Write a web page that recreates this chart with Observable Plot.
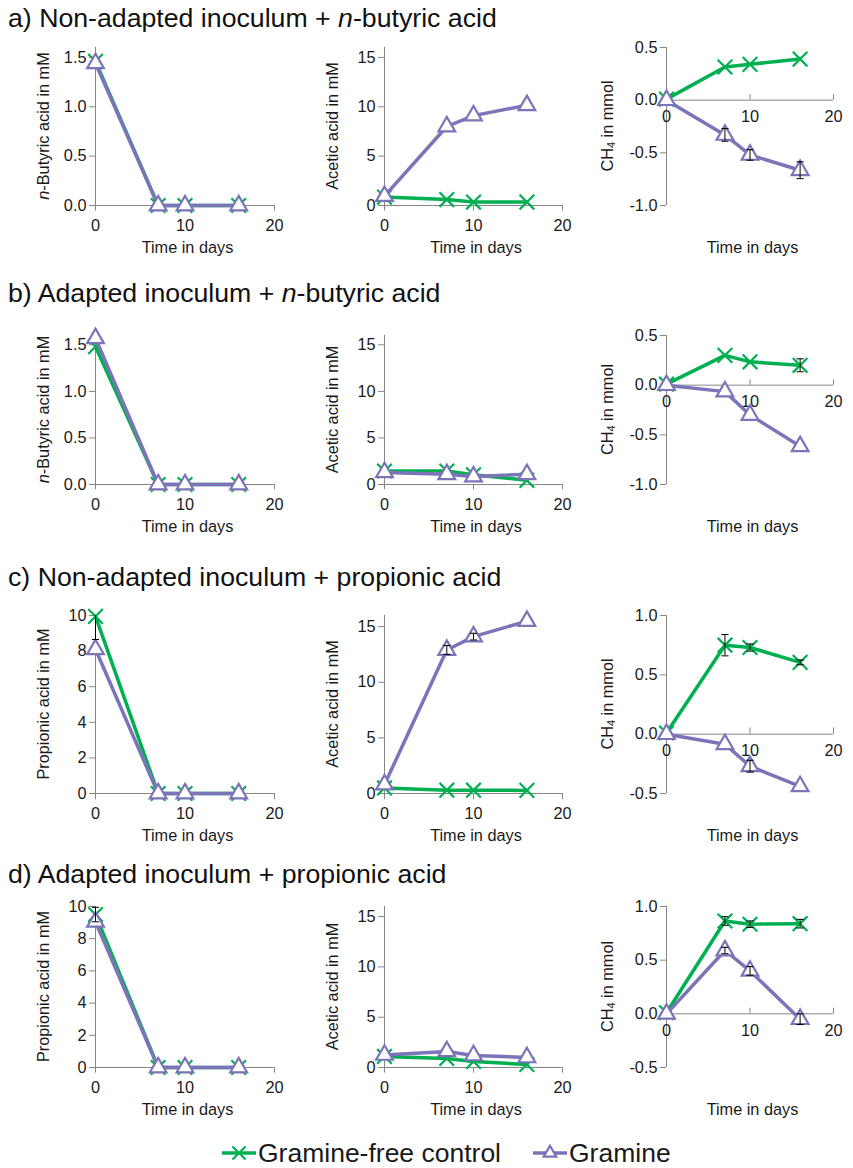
<!DOCTYPE html>
<html><head><meta charset="utf-8">
<script src="https://cdn.jsdelivr.net/npm/d3@7"></script>
<script src="https://cdn.jsdelivr.net/npm/@observablehq/plot@0.6"></script>
<style>
body{margin:0;background:#fff;font-family:"Liberation Sans",Arial,sans-serif;}
#root{position:relative;width:853px;height:1168px;overflow:hidden;background:#fff;}
.title{position:absolute;left:8px;font-size:26.7px;line-height:30px;color:#111;white-space:nowrap;}
.panel{position:absolute;}
</style></head><body><div id="root"></div>
<script>
// ---------- data ----------
const days = [0, 7, 10, 16];
const xTicks = [0, 10, 20];
const seriesNames = ["Gramine-free control", "Gramine"];
const panelTitles = [
  ["a) Non-adapted inoculum + ", "n", "-butyric acid"],
  ["b) Adapted inoculum + ", "n", "-butyric acid"],
  ["c) Non-adapted inoculum + propionic acid", "", ""],
  ["d) Adapted inoculum + propionic acid", "", ""]
];
// row a
const aButCtrl = [1.46, 0, 0, 0];
const aButGram = [1.44, 0, 0, 0];
const aAceCtrl = [0.85, 0.6, 0.35, 0.35];
const aAceGram = [0.95, 8.0, 9.1, 10.15];
const aCh4Ctrl = [0.01, 0.315, 0.34, 0.39];
const aCh4Gram = [0.0, -0.33, -0.52, -0.665];
const aCh4GramErr = [0, 0.06, 0.05, 0.08];
// row b
const bButCtrl = [1.48, 0, 0, 0];
const bButGram = [1.57, 0, 0, 0];
const bAceCtrl = [1.45, 1.45, 1.05, 0.45];
const bAceGram = [1.3, 1.1, 0.85, 1.1];
const bCh4Ctrl = [0.01, 0.30, 0.235, 0.20];
const bCh4Gram = [0.0, -0.065, -0.30, -0.615];
const bCh4CtrlErr = [0, 0, 0, 0.065];
// row c
const cPropCtrl = [9.95, 0, 0, 0];
const cPropGram = [8.1, 0, 0, 0];
const cPropCtrlErr = [1.3, 0, 0, 0];
const cAceCtrl = [0.5, 0.3, 0.3, 0.28];
const cAceGram = [0.8, 12.9, 14.1, 15.5];
const cAceGramErr = [0, 0.4, 0.3, 0];
const cCh4Ctrl = [0.01, 0.75, 0.73, 0.605];
const cCh4Gram = [0.0, -0.085, -0.27, -0.44];
const cCh4CtrlErr = [0, 0.09, 0.03, 0.02];
const cCh4GramErr = [0, 0, 0.05, 0];
// row d
const dPropCtrl = [9.5, 0, 0, 0];
const dPropGram = [9.05, 0, 0, 0];
const dPropCtrlErr = [0.45, 0, 0, 0];
const dAceCtrl = [1.1, 0.9, 0.6, 0.3];
const dAceGram = [1.25, 1.6, 1.2, 1.0];
const dCh4Ctrl = [0.01, 0.865, 0.835, 0.84];
const dCh4Gram = [0.0, 0.59, 0.40, -0.05];
const dCh4CtrlErr = [0, 0.04, 0.03, 0.04];
const dCh4GramErr = [0, 0.03, 0.04, 0.05];
// y axis setups
const butDomain = [0, 1.6], butTicks = [0, 0.5, 1.0, 1.5];
const propDomain = [0, 10], propTicks = [0, 2, 4, 6, 8, 10];
const aceDomain = [0, 16], aceTicks = [0, 5, 10, 15];
const ch4DomainAB = [-1.0, 0.5], ch4TicksAB = [-1.0, -0.5, 0.0, 0.5];
const ch4DomainCD = [-0.5, 1.0], ch4TicksCD = [-0.5, 0.0, 0.5, 1.0];

// ---------- style / layout ----------
const green = "#00b050", purple = "#7b74b8", axisColor = "#868686", textColor = "#1a1a1a";
const FONT = "'Liberation Sans', Arial, sans-serif";
const cols = [
  {left: 0, width: 290, ml: 95, mr: 16, labOff: 52},
  {left: 290, width: 290, ml: 94, mr: 18, labOff: 52},
  {left: 575, width: 278, ml: 91, mr: 20, labOff: 59}
];
const rows = [
  {top: 47, bottom: 205, title: 3},
  {top: 335, bottom: 484, title: 278},
  {top: 615, bottom: 793, title: 562},
  {top: 906, bottom: 1067, title: 859}
];
const fmt1 = d => d.toFixed(1);
const fmt0 = d => String(d);
const labBut = [{t: "n", italic: true}, {t: "-Butyric acid in mM"}];
const labProp = [{t: "Propionic acid in mM"}];
const labAce = [{t: "Acetic acid in mM"}];
const labCh4 = [{t: "CH"}, {t: "4", sub: true}, {t: " in mmol"}];

const root = document.getElementById("root");

function table(vals, errs) {
  return days.map((t, i) => ({t, v: vals[i], e: errs ? errs[i] : 0}));
}

const capSymbol = {draw(ctx, size) { const r = Math.sqrt(size / Math.PI); ctx.moveTo(-r, 0); ctx.lineTo(r, 0); }};

function panel(ri, ci, cfg) {
  const row = rows[ri], col = cols[ci];
  const mt = 17, mb = 60;
  const H = (row.bottom - row.top) + mt + mb;
  const [y0, y1] = cfg.domain;
  const axisY0 = cfg.mid ? 0 : y0;
  const span = y1 - y0;
  const ctrl = table(cfg.ctrl, cfg.ctrlErr);
  const gram = table(cfg.gram, cfg.gramErr);
  const marks = [
    Plot.ruleX([0], {y1: y0, y2: y1, stroke: axisColor, strokeWidth: 1}),
    Plot.ruleY([axisY0], {x1: 0, x2: 20, stroke: axisColor, strokeWidth: 1}),
    Plot.ruleX(xTicks, {x: d => d, y1: axisY0, y2: cfg.mid ? axisY0 + span * 0.035 : axisY0 - span * 0.035, stroke: axisColor}),
    Plot.text(xTicks, {x: d => d, y: axisY0, dy: cfg.mid ? 17 : 20, text: d => String(d), fontSize: 16.3, fill: textColor}),
    Plot.axisY(cfg.ticks, {anchor: "left", tickSize: 6, tickPadding: 3, tickFormat: cfg.fmt, fontSize: 16.3, stroke: axisColor, fill: textColor, label: null}),
    Plot.line(ctrl, {x: "t", y: "v", stroke: green, strokeWidth: 3.5}),
    Plot.dot(ctrl, {x: "t", y: "v", symbol: "times", r: 6.7, stroke: green, strokeWidth: 2.2}),
    Plot.line(gram, {x: "t", y: "v", stroke: purple, strokeWidth: 3.5}),
    Plot.dot(gram, {x: "t", y: "v", symbol: "triangle", r: 6.2, stroke: purple, fill: "white", strokeWidth: 2.2})
  ];
  for (const s of [ctrl, gram]) {
    const er = s.filter(d => d.e > 0).map(d => {
      const hiRaw = d.v + d.e, loRaw = d.v - d.e;
      return {t: d.t, lo: Math.max(loRaw, y0), hi: Math.min(hiRaw, y1), loCap: loRaw >= y0, hiCap: hiRaw <= y1};
    });
    if (!er.length) continue;
    marks.push(Plot.ruleX(er, {x: "t", y1: "lo", y2: "hi", stroke: "black", strokeWidth: 1}));
    const caps = [];
    er.forEach(d => { if (d.loCap) caps.push({t: d.t, y: d.lo}); if (d.hiCap) caps.push({t: d.t, y: d.hi}); });
    marks.push(Plot.dot(caps, {x: "t", y: "y", symbol: capSymbol, r: 3.6, stroke: "black", fill: "none", strokeWidth: 1}));
  }
  const svg = Plot.plot({
    width: col.width, height: H,
    marginLeft: col.ml, marginRight: col.mr, marginTop: mt, marginBottom: mb,
    x: {domain: [0, 20], axis: null},
    y: {domain: cfg.domain, axis: null},
    style: {fontFamily: FONT, background: "transparent", overflow: "visible", color: textColor},
    marks
  });
  svg.classList.add("panel");
  svg.style.left = col.left + "px";
  svg.style.top = (row.top - mt) + "px";
  const sel = d3.select(svg);
  const cy = (mt + (H - mb)) / 2;
  const yl = sel.append("text")
    .attr("transform", `translate(${col.ml - col.labOff},${cy}) rotate(-90)`)
    .attr("text-anchor", "middle").attr("dominant-baseline", "central")
    .attr("font-size", 16.3).attr("fill", textColor).attr("font-family", FONT);
  let shifted = false;
  cfg.label.forEach(s => {
    const ts = yl.append("tspan").text(s.t);
    if (s.italic) ts.attr("font-style", "italic");
    if (s.sub) { ts.attr("font-size", 11).attr("dy", 4); shifted = true; }
    else if (shifted) { ts.attr("dy", -4); shifted = false; }
  });
  sel.append("text")
    .attr("x", col.ml + (col.width - col.ml - col.mr) / 2 + 3)
    .attr("y", H - mb + 48)
    .attr("text-anchor", "middle").attr("font-size", 16.3).attr("fill", textColor).attr("font-family", FONT)
    .text("Time in days");
  root.appendChild(svg);
}

// titles
panelTitles.forEach((parts, i) => {
  const div = document.createElement("div");
  div.className = "title";
  div.style.top = rows[i].title + "px";
  div.append(parts[0]);
  if (parts[1]) { const it = document.createElement("i"); it.textContent = parts[1]; div.append(it); div.append(parts[2]); }
  root.appendChild(div);
});

panel(0, 0, {domain: butDomain, ticks: butTicks, fmt: fmt1, ctrl: aButCtrl, gram: aButGram, label: labBut});
panel(0, 1, {domain: aceDomain, ticks: aceTicks, fmt: fmt0, ctrl: aAceCtrl, gram: aAceGram, label: labAce});
panel(0, 2, {domain: ch4DomainAB, ticks: ch4TicksAB, fmt: fmt1, ctrl: aCh4Ctrl, gram: aCh4Gram, gramErr: aCh4GramErr, label: labCh4, mid: true});

panel(1, 0, {domain: butDomain, ticks: butTicks, fmt: fmt1, ctrl: bButCtrl, gram: bButGram, label: labBut});
panel(1, 1, {domain: aceDomain, ticks: aceTicks, fmt: fmt0, ctrl: bAceCtrl, gram: bAceGram, label: labAce});
panel(1, 2, {domain: ch4DomainAB, ticks: ch4TicksAB, fmt: fmt1, ctrl: bCh4Ctrl, gram: bCh4Gram, ctrlErr: bCh4CtrlErr, label: labCh4, mid: true});

panel(2, 0, {domain: propDomain, ticks: propTicks, fmt: fmt0, ctrl: cPropCtrl, gram: cPropGram, ctrlErr: cPropCtrlErr, label: labProp});
panel(2, 1, {domain: aceDomain, ticks: aceTicks, fmt: fmt0, ctrl: cAceCtrl, gram: cAceGram, gramErr: cAceGramErr, label: labAce});
panel(2, 2, {domain: ch4DomainCD, ticks: ch4TicksCD, fmt: fmt1, ctrl: cCh4Ctrl, gram: cCh4Gram, ctrlErr: cCh4CtrlErr, gramErr: cCh4GramErr, label: labCh4, mid: true});

panel(3, 0, {domain: propDomain, ticks: propTicks, fmt: fmt0, ctrl: dPropCtrl, gram: dPropGram, ctrlErr: dPropCtrlErr, label: labProp});
panel(3, 1, {domain: aceDomain, ticks: aceTicks, fmt: fmt0, ctrl: dAceCtrl, gram: dAceGram, label: labAce});
panel(3, 2, {domain: ch4DomainCD, ticks: ch4TicksCD, fmt: fmt1, ctrl: dCh4Ctrl, gram: dCh4Gram, ctrlErr: dCh4CtrlErr, gramErr: dCh4GramErr, label: labCh4, mid: true});

// legend
(function legend() {
  const svg = d3.create("svg").attr("width", 520).attr("height", 36)
    .style("position", "absolute").style("left", "215px").style("top", "1135px");
  const items = [
    {name: seriesNames[0], color: green, sym: d3.symbolTimes, x: 7, fill: "none"},
    {name: seriesNames[1], color: purple, sym: d3.symbolTriangle2, x: 318, fill: "white"}
  ];
  items.forEach(it => {
    const g = svg.append("g").attr("transform", `translate(${it.x},18)`);
    g.append("line").attr("x1", 0).attr("x2", 34).attr("stroke", it.color).attr("stroke-width", 3.5);
    g.append("path").attr("transform", "translate(17,0)").attr("d", d3.symbol(it.sym, Math.PI * 6 * 6)())
      .attr("stroke", it.color).attr("fill", it.fill).attr("stroke-width", 2.2);
    g.append("text").attr("x", 36).attr("dy", "0.35em").attr("font-size", 26.5).attr("fill", textColor)
      .attr("font-family", FONT).text(it.name);
  });
  root.appendChild(svg.node());
})();
</script></body></html>
